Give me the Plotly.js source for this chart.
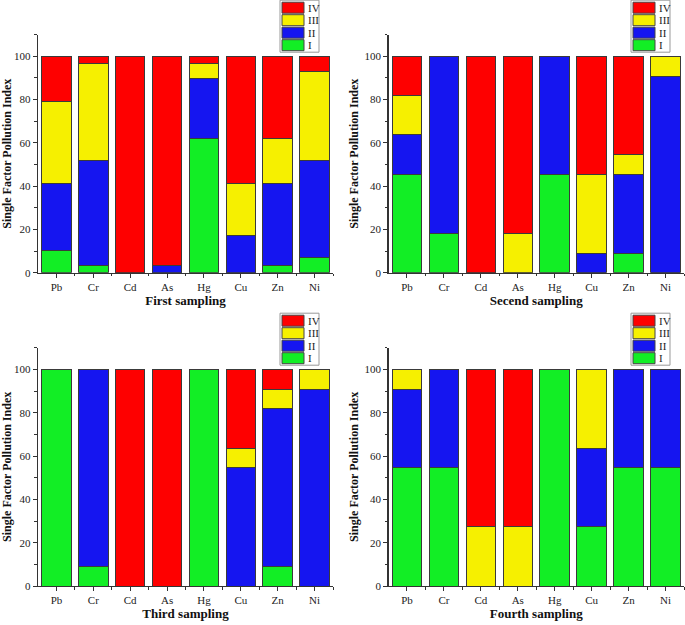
<!DOCTYPE html>
<html>
<head>
<meta charset="utf-8">
<script src="https://cdn.plot.ly/plotly-3.0.1.min.js"></script>
<style>
  html, body { margin: 0; padding: 0; background: #fff; }
  #chart { width: 685px; height: 625px; }
</style>
</head>
<body>
<div id="chart"></div>
<script>
// elementi i klase zagadjenja
const elements = ['Pb', 'Cr', 'Cd', 'As', 'Hg', 'Cu', 'Zn', 'Ni'];
const classes = ['I', 'II', 'III', 'IV'];
const classColors = ['#12EE25', '#1515F0', '#F6F000', '#FE0000'];
const samplingNames = ['First sampling', 'Secend sampling', 'Third sampling', 'Fourth sampling'];

// udeo (%) po klasi: [I, II, III, IV]
const first = [
  [10.3, 3.4, 0, 0, 62.1, 0, 3.4, 6.9],
  [31.0, 48.3, 0, 3.4, 27.6, 17.2, 37.9, 44.8],
  [37.9, 44.8, 0, 0, 6.9, 24.1, 20.7, 41.4],
  [20.7, 3.4, 100, 96.6, 3.4, 58.6, 37.9, 6.9]
];
const second = [
  [45.5, 18.2, 0, 0, 45.5, 0, 9.1, 0],
  [18.2, 81.8, 0, 0, 54.5, 9.1, 36.4, 90.9],
  [18.2, 0, 0, 18.2, 0, 36.4, 9.1, 9.1],
  [18.2, 0, 100, 81.8, 0, 54.5, 45.5, 0]
];
const third = [
  [100, 9.1, 0, 0, 100, 0, 9.1, 0],
  [0, 90.9, 0, 0, 0, 54.5, 72.7, 90.9],
  [0, 0, 0, 0, 0, 9.1, 9.1, 9.1],
  [0, 0, 100, 100, 0, 36.4, 9.1, 0]
];
const fourth = [
  [54.5, 54.5, 0, 0, 100, 27.3, 54.5, 54.5],
  [36.4, 45.5, 0, 0, 0, 36.4, 45.5, 45.5],
  [9.1, 0, 27.3, 27.3, 0, 36.4, 0, 0],
  [0, 0, 72.7, 72.7, 0, 0, 0, 0]
];
const samplings = [first, second, third, fourth];

const W = 685, H = 625;
const FONT = 'Liberation Serif, Times New Roman, serif';
const AXIS = '#333';

// pozicije panela u pikselima
const panels = [
  {x0: 38, x1: 333, top: 34.7, bot: 272.7},
  {x0: 388.5, x1: 684, top: 34.7, bot: 272.7},
  {x0: 38, x1: 333, top: 347.7, bot: 586},
  {x0: 388.5, x1: 684, top: 347.7, bot: 586}
];

let traces = [];
let layout = {
  width: W, height: H,
  margin: {l: 0, r: 0, t: 0, b: 0},
  barmode: 'stack',
  bargap: 0.2,
  showlegend: false,
  paper_bgcolor: '#fff',
  plot_bgcolor: '#fff',
  font: {family: FONT, color: '#222'},
  shapes: [],
  annotations: []
};

samplings.forEach((data, s) => {
  const n = s === 0 ? '' : String(s + 1);
  const p = panels[s];

  classes.forEach((c, k) => {
    traces.push({
      type: 'bar',
      name: c,
      x: elements,
      y: data[k],
      xaxis: 'x' + n,
      yaxis: 'y' + n,
      marker: {color: classColors[k], line: {color: '#3a3a3a', width: 1}},
      hoverinfo: 'x+y+name'
    });
  });

  layout['xaxis' + n] = {
    domain: [p.x0 / W, p.x1 / W],
    anchor: 'y' + n,
    type: 'category',
    range: [-0.5, 7.5],
    showline: true, linecolor: AXIS, linewidth: 1.2,
    ticks: 'outside', ticklen: 4, tickcolor: AXIS, tickwidth: 1,
    minor: {ticks: 'outside', ticklen: 2.5, tickcolor: AXIS, tickvals: [0.5, 1.5, 2.5, 3.5, 4.5, 5.5, 6.5, 7.5]},
    showgrid: false, zeroline: false, fixedrange: true,
    tickfont: {family: FONT, size: 11, color: '#222'},
    title: {text: samplingNames[s], font: {family: FONT, size: 13, color: '#111', weight: 'bold'}, standoff: 3}
  };
  layout['yaxis' + n] = {
    domain: [1 - p.bot / H, 1 - p.top / H],
    anchor: 'x' + n,
    range: [0, 110],
    tick0: 0, dtick: 20,
    showline: true, linecolor: AXIS, linewidth: 1.2,
    ticks: 'outside', ticklen: 4, tickcolor: AXIS, tickwidth: 1,
    minor: {ticks: 'outside', ticklen: 2.5, tickcolor: AXIS, dtick: 10, tick0: 0},
    showgrid: false, zeroline: false, fixedrange: true,
    tickfont: {family: FONT, size: 11, color: '#222'},
    title: {text: 'Single Factor Pollution Index', font: {family: FONT, size: 12, color: '#111', weight: 'bold'}, standoff: 3}
  };

  // legenda (IV gore, I dole)
  const left = p.x1 - 53;
  const top = p.top - 34.5;
  layout.shapes.push({
    type: 'rect', xref: 'paper', yref: 'paper',
    x0: left / W, x1: (left + 39) / W,
    y0: 1 - top / H, y1: 1 - (top + 52) / H,
    line: {color: '#999', width: 1}, fillcolor: 'rgba(0,0,0,0)'
  });
  for (let i = 0; i < classes.length; i++) {
    const k = classes.length - 1 - i;
    const sy = top + 2 + i * 12.5;
    layout.shapes.push({
      type: 'rect', xref: 'paper', yref: 'paper',
      x0: (left + 2) / W, x1: (left + 24) / W,
      y0: 1 - sy / H, y1: 1 - (sy + 11) / H,
      line: {color: '#444', width: 1}, fillcolor: classColors[k]
    });
    layout.annotations.push({
      xref: 'paper', yref: 'paper',
      x: (left + 26) / W, y: 1 - (sy + 5.5) / H,
      xanchor: 'left', yanchor: 'middle',
      text: classes[k], showarrow: false,
      font: {family: FONT, size: 11, color: '#222'}
    });
  }
});

Plotly.newPlot('chart', traces, layout, {displayModeBar: false, staticPlot: true});
</script>
</body>
</html>
